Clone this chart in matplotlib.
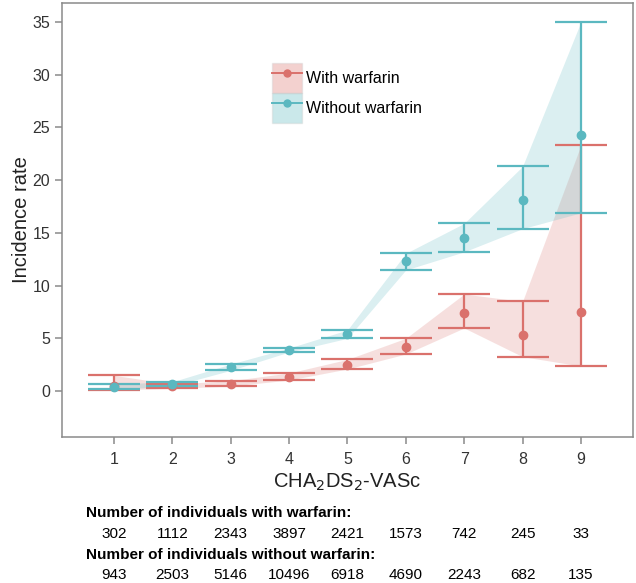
"""Incidence rate by CHA2DS2-VASc score, with and without warfarin."""

import numpy as np
import matplotlib
matplotlib.use("Agg")
import matplotlib.pyplot as plt
from matplotlib.patches import Patch
from matplotlib.lines import Line2D
from matplotlib.legend_handler import HandlerTuple

plt.rcParams["font.family"] = ["Liberation Sans", "DejaVu Sans"]

score = [1, 2, 3, 4, 5, 6, 7, 8, 9]

# with warfarin: estimate, lower CI, upper CI
with_rate = [0.45, 0.47, 0.7, 1.36, 2.5, 4.2, 7.4, 5.3, 7.5]
with_lo = [0.1, 0.25, 0.47, 1.04, 2.09, 3.51, 5.98, 3.26, 2.37]
with_hi = [1.49, 0.66, 0.98, 1.71, 3.0, 5.0, 9.2, 8.5, 23.3]

# without warfarin
without_rate = [0.4, 0.7, 2.25, 3.89, 5.4, 12.3, 14.5, 18.1, 24.3]
without_lo = [0.15, 0.47, 1.96, 3.7, 5.0, 11.48, 13.2, 15.4, 16.9]
without_hi = [0.66, 0.88, 2.56, 4.08, 5.79, 13.06, 15.9, 21.3, 35.0]

n_with = [302, 1112, 2343, 3897, 2421, 1573, 742, 245, 33]
n_without = [943, 2503, 5146, 10496, 6918, 4690, 2243, 682, 135]

RED = "#DA716C"
TEAL = "#5BB8C0"
AXIS = "#8A8A8A"

fig = plt.figure(figsize=(6.36, 5.83), dpi=100)
ax = fig.add_axes([0.0975, 0.2504, 0.8975, 0.7445])

series = [
    ("With warfarin", with_rate, with_lo, with_hi, RED),
    ("Without warfarin", without_rate, without_lo, without_hi, TEAL),
]
handles = []
for label, rate, lo, hi, col in series:
    x = np.array(score)
    rate, lo, hi = map(np.array, (rate, lo, hi))
    ax.fill_between(x, lo, hi, color=col, alpha=0.22, linewidth=0)
    ax.errorbar(x, rate, yerr=[rate - lo, hi - rate], fmt="o", color=col,
                ms=6, elinewidth=1.6, capsize=18.7, capthick=1.6)
    handles.append((Patch(facecolor=col, alpha=0.32, edgecolor="#C8C8C8", linewidth=1),
                    Line2D([], [], color=col, marker="o", ms=5, lw=1.4)))

ax.set_xlim(0.11, 9.89)
ax.set_ylim(-4.36, 36.8)
ax.set_xticks(score)
ax.set_yticks([0, 5, 10, 15, 20, 25, 30, 35])
for s in ax.spines.values():
    s.set_color(AXIS)
    s.set_linewidth(1.1)
ax.tick_params(colors=AXIS, labelcolor="#333333", labelsize=11.5, length=5, width=1.1)
ax.tick_params(axis="x", pad=6)
ax.set_xlabel("CHA$_2$DS$_2$-VASc", fontsize=14.5, color="#222222", labelpad=3)
ax.set_ylabel("Incidence rate", fontsize=14.5, color="#222222", labelpad=1)

leg = ax.legend(handles, [s[0] for s in series], handler_map={tuple: HandlerTuple(ndivide=1)},
                loc="upper left", bbox_to_anchor=(0.368, 0.862), frameon=False,
                fontsize=11.5, handlelength=1.9, handleheight=2.5, labelspacing=0.0,
                handletextpad=0.25, borderpad=0, borderaxespad=0)

# counts table under the plot, one number under each score
fig.text(86 / 636, 1 - 513 / 583, "Number of individuals with warfarin:",
         fontsize=11, fontweight="bold", va="center", ha="left")
fig.text(86 / 636, 1 - 555 / 583, "Number of individuals without warfarin:",
         fontsize=11, fontweight="bold", va="center", ha="left")
for s, a, b in zip(score, n_with, n_without):
    xf = fig.transFigure.inverted().transform(ax.transData.transform((s, 0)))[0]
    fig.text(xf, 1 - 534 / 583, str(a), fontsize=11, ha="center", va="center")
    fig.text(xf, 1 - 575 / 583, str(b), fontsize=11, ha="center", va="center")

fig.savefig("out.png", dpi=100)
